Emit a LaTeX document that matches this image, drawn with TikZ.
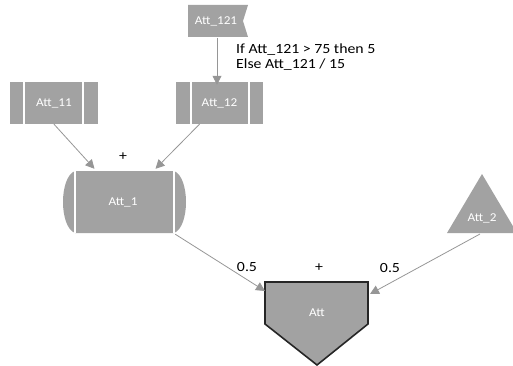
\documentclass[tikz,border=0pt]{standalone}
\usepackage{fontspec}
\setmainfont{Carlito}
\newfontfamily\lblfont{Carlito}[FakeStretch=1.13]
\newfontfamily\boxfont{Carlito}[FakeStretch=1.1]
\usetikzlibrary{arrows.meta,calc}
\definecolor{boxgray}{RGB}{162,162,162}
\definecolor{arrowgray}{RGB}{150,150,150}
\tikzset{
  conn/.style={draw=arrowgray, line width=0.8pt, -{Triangle[length=9pt,width=9pt]}},
  boxtext/.style={text=white, font=\boxfont\fontsize{12}{14}\selectfont, inner sep=0pt},
  lbl/.style={text=black, font=\lblfont\fontsize{14}{16}\selectfont, inner sep=0pt},
  sidebox/.style={fill=boxgray, draw=none, inner sep=0pt, minimum height=42pt,
    text=white, font=\boxfont\fontsize{12}{14}\selectfont},
  divider/.style={draw=white, line width=1.6pt}
}
\begin{document}
\begin{tikzpicture}[x=1pt,y=-1pt]
\useasboundingbox (0,0) rectangle (513,366);
\clip (0,0) rectangle (513,366);

% Att_121 flag
\fill[boxgray] (188,5) -- (248,5) -- (243,21) -- (248,37) -- (188,37) -- cycle;
\node[boxtext] (att121) at (216,21) {Att\_121};
\coordinate (att121s) at (217,38);

% Att_11
\node[sidebox, minimum width=88pt] (att11) at (54,103) {Att\_11};
\draw[divider] ([xshift=14pt]att11.north west) -- ([xshift=14pt]att11.south west);
\draw[divider] ([xshift=-15pt]att11.north east) -- ([xshift=-15pt]att11.south east);

% Att_12
\node[sidebox, minimum width=87pt] (att12) at (219.5,103) {Att\_12};
\draw[divider] ([xshift=15pt]att12.north west) -- ([xshift=15pt]att12.south west);
\draw[divider] ([xshift=-14pt]att12.north east) -- ([xshift=-14pt]att12.south east);

% Att_1
\fill[boxgray] (75,171) -- (174,171) .. controls (190,177) and (190,227) .. (174,233)
  -- (75,233) .. controls (59,227) and (59,177) .. (75,171) -- cycle;
\node[inner sep=0pt, minimum width=99pt, minimum height=62pt] (att1) at (124.5,202) {};
\node[boxtext] (att1t) at (123,202) {Att\_1};
\draw[divider] (att1.north west) -- (att1.south west);
\draw[divider] (att1.north east) -- (att1.south east);

% Att_2 triangle
\fill[boxgray] (447,233) -- (482,174) -- (517,233) -- cycle;
\node[boxtext] (att2) at (482,218) {Att\_2};
\coordinate (att2b) at (480,234);

% Att pentagon
\draw[fill=boxgray, draw=black!85, line width=1.6pt]
  (265,282) coordinate (attNW) -- (368,282) coordinate (attNE) -- (368,324)
  -- (317,365) -- (265,324) -- cycle;
\node[boxtext] (att) at (317,313) {Att};

% connectors
\draw[conn] (att121s) -- ([yshift=-3pt]att12.north -| att121s);
\draw[conn] (att11.south) -- ([xshift=-30pt,yshift=2pt]att1.north);
\draw[conn] ([xshift=-20pt]att12.south) -- ([xshift=31pt,yshift=2pt]att1.north);
\draw[conn] ([xshift=1pt,yshift=-1pt]att1.south east) -- ([yshift=-9pt]attNW);
\draw[conn] (att2b) -- ([xshift=2pt,yshift=-12pt]attNE);

% labels
\node[lbl, anchor=west] (cond1) at (236,50) {If Att\_121 > 75 then 5};
\node[lbl, anchor=west] (cond2) at (236,65) {Else Att\_121 / 15};
\node[lbl] (plus1) at (123,157) {+};
\node[lbl] (w1) at (247,267) {0.5};
\node[lbl] (plus2) at (319,268) {+};
\node[lbl] (w2) at (390,268) {0.5};
\end{tikzpicture}
\end{document}
